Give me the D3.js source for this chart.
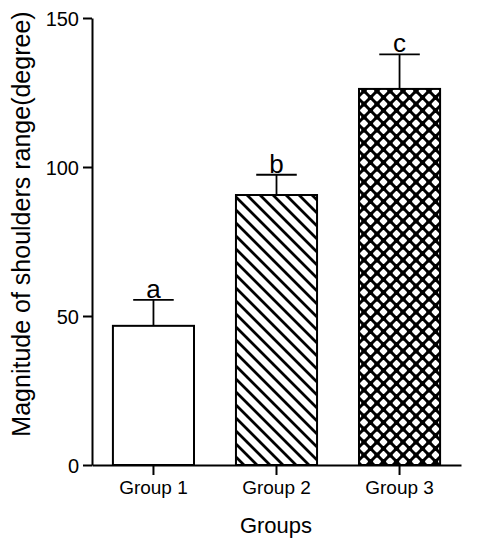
<!DOCTYPE html>
<html>
<head>
<meta charset="utf-8">
<script src="https://cdn.jsdelivr.net/npm/d3@7"></script>
<style>
  body { margin: 0; background: #fff; }
  text { font-family: Arial, "Liberation Sans", sans-serif; fill: #000; }
</style>
</head>
<body>
<script>
// data
let groups = ["Group 1", "Group 2", "Group 3"];
let means = [46.7, 90.6, 126.2];
let errors = [8.7, 6.8, 11.6];
let letters = ["a", "b", "c"];
let fills = ["white", "url(#diag)", "url(#cross)"];
let yTicks = [0, 50, 100, 150];

let svg = d3.select("body").append("svg").attr("width", 500).attr("height", 550);

// hatch patterns
let defs = svg.append("defs");
let diag = defs.append("pattern")
  .attr("id", "diag").attr("patternUnits", "userSpaceOnUse")
  .attr("width", 13).attr("height", 13);
diag.append("rect").attr("width", 13).attr("height", 13).attr("fill", "white");
diag.append("path")
  .attr("d", "M-3,-3 L16,16 M-3,10 L3,16 M10,-3 L16,3")
  .attr("stroke", "black").attr("stroke-width", 2.8);

let cross = defs.append("pattern")
  .attr("id", "cross").attr("patternUnits", "userSpaceOnUse")
  .attr("width", 13).attr("height", 13);
cross.append("rect").attr("width", 13).attr("height", 13).attr("fill", "white");
cross.append("path")
  .attr("d", "M-3,-3 L16,16 M-3,16 L16,-3 M-3,10 L3,16 M10,-3 L16,3 M-3,3 L3,-3 M10,16 L16,10")
  .attr("stroke", "black").attr("stroke-width", 3);
// small dots at the crossings make the white holes rounder
cross.append("circle").attr("cx", 6.5).attr("cy", 6.5).attr("r", 2.6).attr("fill", "black");
cross.append("circle").attr("cx", 0).attr("cy", 0).attr("r", 2.6).attr("fill", "black");
cross.append("circle").attr("cx", 13).attr("cy", 0).attr("r", 2.6).attr("fill", "black");
cross.append("circle").attr("cx", 0).attr("cy", 13).attr("r", 2.6).attr("fill", "black");
cross.append("circle").attr("cx", 13).attr("cy", 13).attr("r", 2.6).attr("fill", "black");

let x = d3.scaleBand().domain(groups).range([92, 461]).paddingInner(0.341).paddingOuter(0.17);
let y = d3.scaleLinear().domain([0, 150]).range([465, 18]);

// bars
svg.selectAll("rect.bar")
  .data(groups)
  .enter().append("rect")
    .attr("class", "bar")
    .attr("x", function(d) { return x(d); })
    .attr("y", function(d, i) { return y(means[i]); })
    .attr("width", x.bandwidth())
    .attr("height", function(d, i) { return y(0) - y(means[i]); })
    .attr("fill", function(d, i) { return fills[i]; })
    .attr("stroke", "black")
    .attr("stroke-width", 2);

// error bars
let cap = x.bandwidth() / 2;
svg.selectAll("line.err")
  .data(groups)
  .enter().append("line")
    .attr("class", "err")
    .attr("x1", function(d) { return x(d) + x.bandwidth() / 2; })
    .attr("x2", function(d) { return x(d) + x.bandwidth() / 2; })
    .attr("y1", function(d, i) { return y(means[i]); })
    .attr("y2", function(d, i) { return y(means[i] + errors[i]); })
    .attr("stroke", "black").attr("stroke-width", 1.8);

svg.selectAll("line.cap")
  .data(groups)
  .enter().append("line")
    .attr("class", "cap")
    .attr("x1", function(d) { return x(d) + x.bandwidth() / 2 - cap / 2; })
    .attr("x2", function(d) { return x(d) + x.bandwidth() / 2 + cap / 2; })
    .attr("y1", function(d, i) { return y(means[i] + errors[i]); })
    .attr("y2", function(d, i) { return y(means[i] + errors[i]); })
    .attr("stroke", "black").attr("stroke-width", 1.8);

// significance letters
svg.selectAll("text.sig")
  .data(letters)
  .enter().append("text")
    .attr("class", "sig")
    .attr("x", function(d, i) { return x(groups[i]) + x.bandwidth() / 2; })
    .attr("y", function(d, i) { return y(means[i] + errors[i]) - 2; })
    .attr("text-anchor", "middle")
    .style("font-size", "26px")
    .text(function(d) { return d; });

// y axis
let yAxis = svg.append("g")
  .attr("transform", "translate(92,0)")
  .call(d3.axisLeft(y).tickValues(yTicks).tickSize(9).tickSizeOuter(0).tickPadding(4));
yAxis.selectAll("text").style("font-size", "20px").attr("dy", "0.36em");

// x axis
let xAxis = svg.append("g")
  .attr("transform", "translate(0,465)")
  .call(d3.axisBottom(x).tickSize(10).tickSizeOuter(0).tickPadding(6));
xAxis.selectAll("text").style("font-size", "19px");
svg.selectAll(".domain, .tick line").attr("stroke", "black").attr("stroke-width", 2);

// axis titles
svg.append("text")
  .attr("x", 276).attr("y", 533)
  .attr("text-anchor", "middle")
  .style("font-size", "22px")
  .text("Groups");

svg.append("text")
  .attr("transform", "translate(30,224) rotate(-90)")
  .attr("text-anchor", "middle")
  .style("font-size", "25px")
  .text("Magnitude of shoulders range(degree)");
</script>
</body>
</html>
